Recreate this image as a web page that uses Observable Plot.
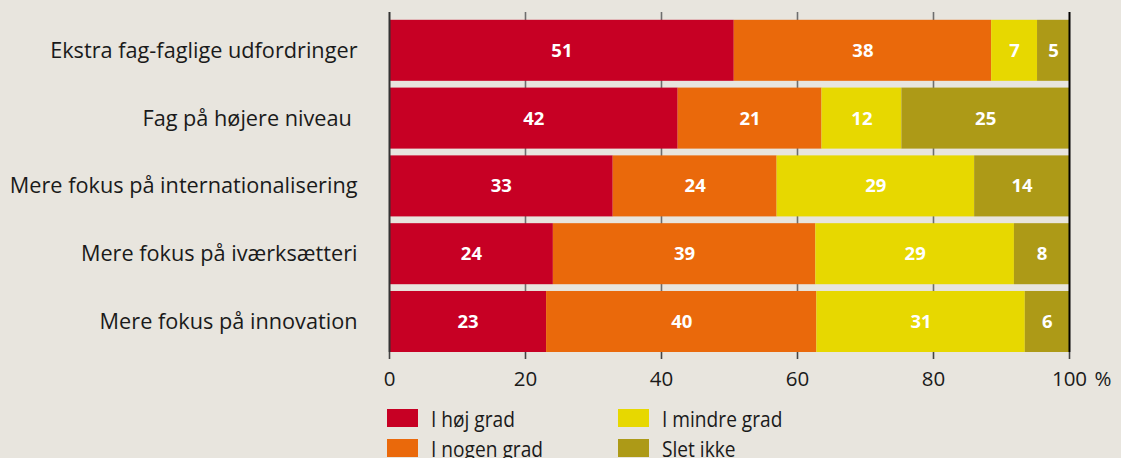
<!DOCTYPE html>
<html>
<head>
<meta charset="utf-8">
<script src="https://cdn.jsdelivr.net/npm/d3@7"></script>
<script src="https://cdn.jsdelivr.net/npm/@observablehq/plot@0.6"></script>
<style>
  html, body { margin: 0; padding: 0; background: #e8e5de; }
  body { width: 1121px; height: 458px; overflow: hidden; font-family: "Open Sans", sans-serif; }
  #chart svg { display: block; }
  #legend {
    margin-left: 387px; margin-top: 9px;
    display: grid; grid-auto-flow: column;
    grid-template-rows: 18px 18px; grid-template-columns: 231px 240px;
    row-gap: 12px;
  }
  .item { display: flex; align-items: center; font-size: 22px; color: #1a1a1a; line-height: 18px; white-space: nowrap; }
  .sw { width: 31px; height: 18px; margin-right: 13px; flex: none; }
  .txt { display: inline-block; transform: scaleX(0.87); transform-origin: left center; }
</style>
</head>
<body>
<div id="chart"></div>
<div id="legend"></div>
<script>
const categories = [
  "Ekstra fag-faglige udfordringer",
  "Fag på højere niveau\u00a0",
  "Mere fokus på internationalisering",
  "Mere fokus på iværksætteri",
  "Mere fokus på innovation"
];
const series = ["I høj grad", "I nogen grad", "I mindre grad", "Slet ikke"];
const colors = ["#c70024", "#ea690b", "#e7d800", "#ad9a17"];
// shares as drawn (percent), per category, in series order
const hojGrad    = [50.7, 42.45, 32.9, 24.1, 23.1];
const nogenGrad  = [37.85, 21.15, 24.1, 38.6, 39.75];
const mindreGrad = [6.75, 11.75, 29.05, 29.2, 30.65];
const sletIkke   = [4.7, 24.65, 13.95, 8.1, 6.5];
// printed labels
const lblHoj    = [51, 42, 33, 24, 23];
const lblNogen  = [38, 21, 24, 39, 40];
const lblMindre = [7, 12, 29, 29, 31];
const lblSlet   = [5, 25, 14, 8, 6];
const xTicks = [0, 20, 40, 60, 80, 100];

const valueCols = [hojGrad, nogenGrad, mindreGrad, sletIkke];
const labelCols = [lblHoj, lblNogen, lblMindre, lblSlet];
const rows = [];
categories.forEach((c, i) => {
  series.forEach((s, j) => {
    rows.push({category: c, series: s, value: valueCols[j][i], label: labelCols[j][i]});
  });
});

const chart = Plot.plot({
  width: 1121,
  height: 400,
  marginLeft: 389,
  marginRight: 52,
  marginTop: 12,
  marginBottom: 48,
  style: {background: "#e8e5de", fontFamily: "Open Sans, sans-serif", color: "#1a1a1a"},
  x: {domain: [0, 100], ticks: xTicks, label: null},
  y: {domain: categories, paddingInner: 0.1, paddingOuter: 0.0575, align: 1, round: false, label: null},
  color: {domain: series, range: colors},
  marks: [
    Plot.ruleX(xTicks.slice(1, -1), {stroke: "#6e6e6e", strokeWidth: 1.6}),
    Plot.barX(rows, Plot.stackX({x: "value", y: "category", fill: "series", z: "series"})),
    Plot.text(rows, Plot.stackX({x: "value", y: "category", z: "series", text: "label",
      fill: "white", fontWeight: "bold", fontSize: 18.5})),
    Plot.ruleX([0], {stroke: "#333", strokeWidth: 2}),
    Plot.ruleX([100], {stroke: "#000", strokeWidth: 2}),
    Plot.axisX({ticks: xTicks, tickSize: 7, tickPadding: 12, fontSize: 20.5, stroke: "#444", strokeWidth: 1.6, label: null}),
    Plot.text(["%"], {x: () => 100, frameAnchor: "bottom", dx: 25, dy: 19, textAnchor: "start",
      lineAnchor: "top", fontSize: 20.5, fill: "#1a1a1a"}),
    Plot.axisY({tickSize: 0, tickPadding: 32, fontSize: 21.7, label: null})
  ]
});
document.getElementById("chart").append(chart);

const legend = document.getElementById("legend");
series.forEach((s, j) => {
  const item = document.createElement("div");
  item.className = "item";
  const sw = document.createElement("span");
  sw.className = "sw";
  sw.style.background = colors[j];
  const t = document.createElement("span");
  t.className = "txt";
  t.textContent = s;
  item.append(sw, t);
  legend.append(item);
});
</script>
</body>
</html>
